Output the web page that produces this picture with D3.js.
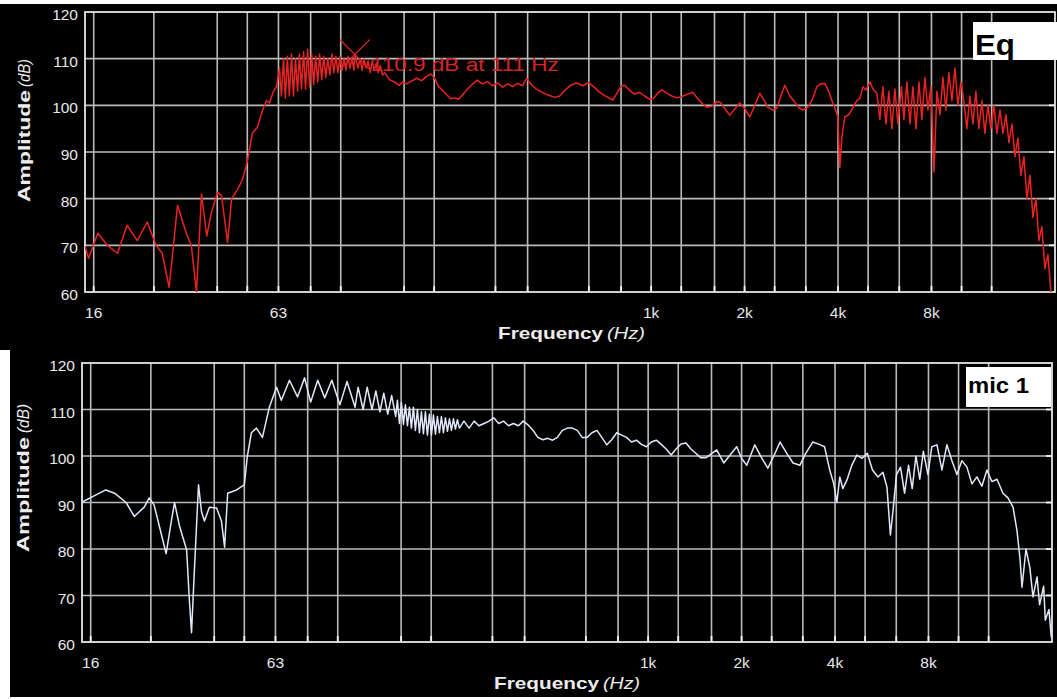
<!DOCTYPE html>
<html>
<head>
<meta charset="utf-8">
<script src="https://cdn.jsdelivr.net/npm/d3@7/dist/d3.min.js"></script>
<style>
  html, body { margin: 0; padding: 0; background: #ffffff; }
  svg { display: block; }
  text { font-family: "Liberation Sans", Arial, sans-serif; }
</style>
</head>
<body>
<svg id="chart" width="1057" height="699"></svg>
<script>
// ---- measurement data: [frequency in Hz, amplitude in dB] ----
const eqCurve = [
  [15.0,69.8],[15.4,67.2],[16.5,72.6],[17.7,70],[19.1,68.3],[20.5,74.3],[22.1,71],[23.8,75],
  [25.4,70],[26.6,68.3],[28.0,61],[29.8,78.6],[31.8,72.6],[33.0,70],[34.3,60],[35.6,81],
  [37.0,72],[38.3,77],[40.1,81.4],[41.3,80.6],[43.2,70.6],[44.5,80],[46.5,82],[48.2,84],
  [50.0,88],[51.9,94],[53.9,95.3],[56.0,99],[57.6,101],[58.9,100.5],[60.7,103],[62.1,104],
  [63.5,108],[64.4,102],[65.4,110],[66.3,101.5],[67.3,110.5],[68.3,102],[69.4,111],[70.4,102],
  [71.5,110],[72.6,103],[73.6,111],[74.7,103.5],[75.9,111.5],[77.0,103.5],[78.2,112],[79.4,104],
  [80.6,111],[81.8,104.5],[83.0,110.5],[84.3,105],[85.5,111],[86.8,105.5],[88.1,110.5],[89.5,106],
  [90.8,110],[92.2,106.5],[93.6,111],[95.0,107],[96.4,110.5],[97.9,107],[99.4,110.5],[100.9,107.5],
  [102.4,110],[103.9,107.5],[105.5,110.5],[107.1,108],[108.7,110],[110.3,107.5],[111.0,110.9],[113.7,108],
  [115.4,110],[117.2,107.5],[118.9,110],[120.7,108],[122.6,109.5],[124.4,107],[126.3,109.5],[128.2,107.5],
  [130.1,109],[132.1,107],[134.1,108.5],[136.4,106.5],[138.4,107],[143.5,105.5],[149,105],[154.6,104.3],
  [158.1,105],[162.9,104.6],[169,105.2],[175.4,105.8],[182.2,105.3],[189,106.2],[194.7,106.7],[200,106],
  [206.7,104],[213,103.2],[219.2,102.3],[226,101.4],[232.6,101.6],[239.7,101.3],[248.3,102.4],[254.3,103.3],
  [263.8,104.4],[275.5,105.4],[285.9,104.6],[297.2,105.1],[308.4,104.2],[320,104.8],[332.3,103.9],[345,104.6],
  [358.3,104],[371,104.7],[385.5,104.2],[397,105.8],[409,104.6],[424.4,103.6],[440.5,103],[457.2,102.4],
  [471,102.1],[489,101.7],[507.4,102],[526.8,103.2],[550.5,104.3],[575.6,104.8],[601.4,104.2],[628.9,104.9],
  [652.6,104],[677.3,103],[700,102.3],[730,101.6],[751.7,101.1],[774.4,102.5],[800,104.1],[821.7,104.3],
  [852.6,103.2],[883.9,102.4],[917.2,102.8],[953.5,102],[989.5,101.3],[1019,101.5],[1050,102.6],[1082,103.3],
  [1123,102.6],[1165,102],[1209,101.6],[1255,101.9],[1312,102.4],[1362,102.8],[1413,101.4],[1466,100.3],
  [1510,99.6],[1567,99.8],[1626,100.8],[1675,100.6],[1739,99],[1792,97.9],[1859,99.2],[1929,100.5],
  [2002,99.3],[2078,97.5],[2157,100],[2238,102.6],[2307,101.2],[2375,99.6],[2466,99],[2540,99.3],
  [2617,102],[2695,104.3],[2798,102],[2903,100.7],[2991,99.5],[3081,99],[3200,99.6],[3319,101.5],
  [3418,104],[3518,104.6],[3625,104.7],[3733,103],[3818,101.1],[3906,99.5],[3993,97.5],[4053,86.7],
  [4113,93],[4205,97.5],[4336,98],[4465,99.5],[4597,101],[4704,101.5],[4811,104],[4915,103.3],
  [5080,105],[5180,103.5],[5334,102.6],[5457,97],[5578,104],[5705,96],[5830,103],[5964,95],
  [6099,103.5],[6235,96],[6400,104],[6520,97],[6668,105],[6820,96],[6970,104],[7130,95],
  [7290,105],[7450,97],[7620,106],[7790,99],[7970,104],[8150,85.7],[8330,103],[8520,98],
  [8710,106],[8900,99],[9100,107],[9310,101],[9520,108],[9730,100],[9950,105],[10170,101],
  [10400,95],[10640,102],[10880,96],[11120,103],[11370,95],[11630,101],[11890,94],[12160,100],
  [12430,95],[12710,100],[13000,94],[13300,99],[13600,94],[13900,98],[14210,92],[14530,96],
  [14860,89],[15190,93],[15530,85],[15880,89],[16240,80],[16610,85],[16980,76],[17360,80],
  [17750,71],[18150,74],[18560,65],[18980,68],[19400,60]
];

const micCurve = [
  [14.9,90],[16.7,91.7],[17.9,92.7],[19.1,92],[20.8,90],[22.1,87],[23.8,89],[24.7,91],
  [25.6,89.5],[26.6,85],[28.0,79],[29.1,86],[29.8,90],[30.9,85],[32.6,79.8],[33.2,70],
  [33.8,62],[34.5,75],[35.6,93.8],[36.4,88],[37.2,86],[38.6,89],[40.7,88.8],[42.2,86],
  [43.2,80.4],[44.2,92],[47.2,92.7],[50.0,93.8],[51.1,99.8],[52.7,105],[54.7,106],[57.2,104],
  [60.2,110.5],[63.5,114.8],[65.8,112],[69.9,116.3],[74.2,112.7],[78.2,116.8],[81.8,111.6],[86.2,116.3],
  [90.8,112.5],[95.7,116.3],[101.6,111],[107.1,116],[113.7,110.5],[116.3,114.8],[120.7,110],[124.4,114.8],
  [128.9,110],[132.7,114],[136.7,109.5],[140.7,113.5],[144.9,109],[149.2,113],[153.7,108.5],[155.7,112],
  [158.0,107],[160.4,111.5],[162.8,106.8],[165.2,111],[167.7,106.5],[170.2,110.5],[172.7,106],[175.3,110.5],
  [177.9,105.5],[180.6,110],[183.3,105],[186.0,109.5],[188.8,104.8],[191.6,109.5],[194.5,104.5],[197.4,109],
  [200.4,104.5],[203.4,108.8],[206.4,104.7],[209.5,108.5],[212.6,105],[215.8,108.5],[219.0,105],[222.3,108.2],
  [225.6,105.3],[229.0,108],[232.4,105.5],[235.9,108],[239.4,105.8],[243.0,107.8],[246.6,106],[255,107.5],
  [265,106],[275,107.5],[285,106.5],[296,107],[307,107.5],[318,108.2],[330,107],[342,107.5],
  [355,106.5],[368,107],[382,106.5],[396,107.5],[410,106.7],[426,105.5],[441,104],[458,103.5],
  [475,103.8],[492,103.4],[510,104],[529,105.5],[549,106],[570,106],[591,105.5],[613,104],
  [636,104],[659,105],[684,105.5],[709,104],[736,102.4],[763,103.5],[792,105],[821,104.5],
  [852,104],[884,103],[917,103.4],[951,102.5],[987,102],[1024,103],[1062,103.4],[1102,102.5],
  [1143,101.5],[1186,100.2],[1230,101.5],[1276,102.6],[1324,102.8],[1373,101.5],[1424,100.6],[1478,99.6],
  [1533,99.6],[1663,101.3],[1752,98.5],[1850,100.5],[1929,102],[2000,99.5],[2078,98],[2205,102.4],
  [2325,99.5],[2430,97.4],[2540,100],[2660,103],[2800,100.5],[2930,98.5],[3081,98],[3215,100.5],
  [3390,103],[3560,102.5],[3700,102],[3845,97],[3964,94],[4053,90],[4144,95.5],[4237,93],
  [4367,94.8],[4530,98],[4700,100.2],[4890,99.5],[5080,100.6],[5280,97],[5500,95.5],[5705,96.5],
  [5880,93.3],[6030,83],[6166,89],[6310,96],[6500,97.6],[6700,92],[6900,98],[7090,93],
  [7290,100],[7500,95],[7700,101],[7970,96],[8200,102],[8520,102.4],[8840,97],[9170,102.4],
  [9520,99],[9880,96],[10250,99],[10640,97.6],[11040,94],[11460,95.5],[11890,93.5],[12340,97],
  [12800,94.5],[13300,95],[13900,92],[14430,91],[14980,89],[15420,84],[15770,78],[16010,71.8],
  [16490,80],[16970,76],[17370,69.7],[17900,74],[18240,68],[18800,72],[19030,64.7],[19550,67],
  [19900,61]
];

// cursor readout on the Eq trace
const eqCursor = { freq: 111, db: 110.9 };

// axis ticks
const gridFreqs = [16, 25, 40, 50, 63, 80, 100, 160, 200, 315, 400, 630, 800, 1000,
  1250, 1600, 2000, 2500, 3150, 4000, 5000, 6300, 8000, 10000, 12500];
const freqLabels = [[16, "16"], [63, "63"], [1000, "1k"], [2000, "2k"], [4000, "4k"], [8000, "8k"]];
const dbTicks = [60, 70, 80, 90, 100, 110, 120];
const freqDomain = [15, 20000];
const dbDomain = [60, 120];

const svg = d3.select("#chart");

function drawPanel(cfg) {
  const g = svg.append("g");
  g.append("rect").attr("x", cfg.bg[0]).attr("y", cfg.bg[1])
    .attr("width", cfg.bg[2]).attr("height", cfg.bg[3]).attr("fill", "#000");

  const x = d3.scaleLog().domain(freqDomain).range([cfg.left, cfg.right]);
  const y = d3.scaleLinear().domain(dbDomain).range([cfg.bottom, cfg.top]);

  const clipId = "clip-" + cfg.name;
  svg.append("clipPath").attr("id", clipId).append("rect")
    .attr("x", cfg.left).attr("y", cfg.top)
    .attr("width", cfg.right - cfg.left).attr("height", cfg.bottom - cfg.top);

  // grid
  const grid = g.append("g").attr("stroke", "#bababa").attr("stroke-width", 1.6);
  grid.selectAll("line.v").data(gridFreqs).join("line")
    .attr("x1", d => x(d)).attr("x2", d => x(d))
    .attr("y1", cfg.top).attr("y2", cfg.bottom);
  grid.selectAll("line.h").data(dbTicks.slice(1, -1)).join("line")
    .attr("x1", cfg.left).attr("x2", cfg.right)
    .attr("y1", d => y(d)).attr("y2", d => y(d));

  // short bright ticks on the bottom and right edges
  const ticks = g.append("g").attr("stroke", "#f4f4f4").attr("stroke-width", 1.8);
  ticks.selectAll("line.b").data(gridFreqs).join("line")
    .attr("x1", d => x(d)).attr("x2", d => x(d))
    .attr("y1", cfg.bottom - 6).attr("y2", cfg.bottom);
  ticks.selectAll("line.r").data(dbTicks.slice(1, -1)).join("line")
    .attr("x1", cfg.right - 6).attr("x2", cfg.right)
    .attr("y1", d => y(d)).attr("y2", d => y(d));

  // frame
  g.append("rect").attr("x", cfg.left).attr("y", cfg.top)
    .attr("width", cfg.right - cfg.left).attr("height", cfg.bottom - cfg.top)
    .attr("fill", "none").attr("stroke", "#e6e6e6").attr("stroke-width", 1.8);

  // trace
  const line = d3.line().x(d => x(d[0])).y(d => y(d[1]));
  g.append("path").datum(cfg.data)
    .attr("clip-path", `url(#${clipId})`)
    .attr("fill", "none").attr("stroke", cfg.color)
    .attr("stroke-width", 1.5).attr("stroke-linejoin", "round")
    .attr("d", line);

  // y tick labels
  g.selectAll("text.yt").data(dbTicks).join("text")
    .attr("x", cfg.left - 7).attr("y", d => y(d) + 8)
    .attr("text-anchor", "end").attr("fill", "#e8e8e8")
    .attr("font-size", 15.5).text(d => d);

  // x tick labels
  g.selectAll("text.xt").data(freqLabels).join("text")
    .attr("x", d => x(d[0])).attr("y", cfg.bottom + 26)
    .attr("text-anchor", "middle").attr("fill", "#e8e8e8")
    .attr("font-size", 15.5).text(d => d[1]);

  // axis titles
  const t = cfg.titles;
  g.append("text").attr("x", t.freq[0]).attr("y", t.freq[1])
    .attr("fill", "#ececec").attr("font-size", 17).attr("font-weight", "bold")
    .attr("textLength", t.freq[2]).attr("lengthAdjust", "spacingAndGlyphs")
    .text("Frequency");
  g.append("text").attr("x", t.hz[0]).attr("y", t.hz[1])
    .attr("fill", "#ececec").attr("font-size", 16).attr("font-style", "italic")
    .attr("textLength", t.hz[2]).attr("lengthAdjust", "spacingAndGlyphs")
    .text("(Hz)");
  g.append("text").attr("transform", `translate(${t.amp[0]},${t.amp[1]}) rotate(-90)`)
    .attr("fill", "#ececec").attr("font-size", 17).attr("font-weight", "bold")
    .attr("textLength", t.amp[2]).attr("lengthAdjust", "spacingAndGlyphs")
    .text("Amplitude");
  g.append("text").attr("transform", `translate(${t.db[0]},${t.db[1]}) rotate(-90)`)
    .attr("fill", "#ececec").attr("font-size", 16.5).attr("font-style", "italic")
    .attr("textLength", t.db[2]).attr("lengthAdjust", "spacingAndGlyphs")
    .text("(dB)");

  // legend box
  const L = cfg.legend;
  g.append("rect").attr("x", L.box[0]).attr("y", L.box[1])
    .attr("width", L.box[2]).attr("height", L.box[3]).attr("fill", "#fff");
  g.append("text").attr("x", L.text[0]).attr("y", L.text[1])
    .attr("font-weight", "bold").attr("font-size", L.size).attr("fill", "#000")
    .attr("textLength", L.text[2]).attr("lengthAdjust", "spacingAndGlyphs")
    .text(cfg.label);

  return { x, y, g };
}

const eqPanel = drawPanel({
  name: "eq", label: "Eq", bg: [0, 4, 1057, 346], left: 85, right: 1055, top: 12, bottom: 292,
  data: eqCurve, color: "#ec2222",
  titles: { freq: [498, 339, 105], hz: [607, 339, 38], amp: [30, 202, 112], db: [30, 87, 28] },
  legend: { box: [973, 22, 84, 38], text: [975, 55, 40], size: 30 }
});

// cursor marker and readout
const cx = eqPanel.x(eqCursor.freq), cy = eqPanel.y(eqCursor.db);
eqPanel.g.append("path")
  .attr("d", `M${cx - 15},${cy - 15}L${cx + 15},${cy + 15}M${cx + 15},${cy - 15}L${cx - 15},${cy + 15}`)
  .attr("stroke", "#d42626").attr("stroke-width", 1.2).attr("fill", "none");
eqPanel.g.append("text").attr("x", cx + 16).attr("y", cy + 16.5)
  .attr("fill", "#d42626").attr("font-size", 19)
  .attr("textLength", 188).attr("lengthAdjust", "spacingAndGlyphs")
  .text(`${eqCursor.db} dB at ${eqCursor.freq} Hz`);

drawPanel({
  name: "mic", label: "mic 1", bg: [10, 350, 1047, 347], left: 82, right: 1052, top: 363, bottom: 642,
  data: micCurve, color: "#e0e8fc",
  titles: { freq: [494, 689, 105], hz: [603, 689, 37], amp: [29, 552, 115], db: [29, 433, 29] },
  legend: { box: [966, 367, 85, 40], text: [968, 393, 61], size: 22 }
});
</script>
</body>
</html>
